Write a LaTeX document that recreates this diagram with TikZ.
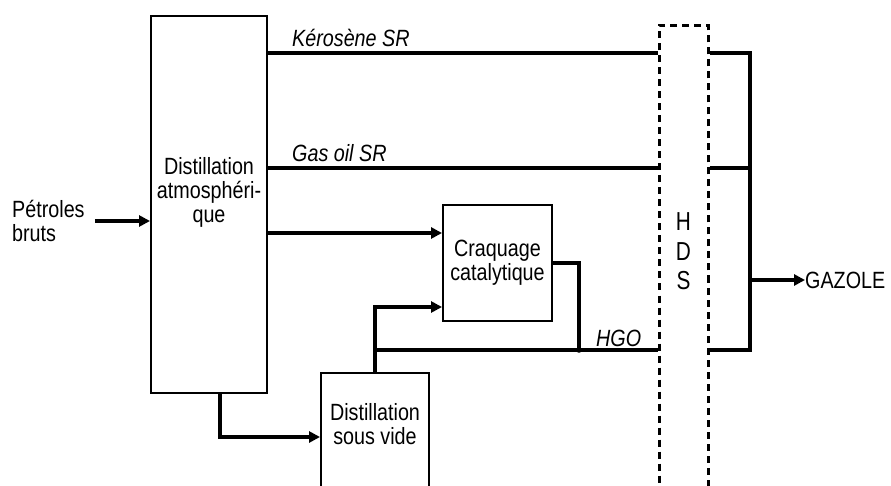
\documentclass[tikz,border=0pt]{standalone}
\usepackage{fontspec}
\setmainfont{Liberation Sans}[FakeStretch=0.84]
\newfontfamily\hdsfont{Liberation Sans}[FakeStretch=0.8]
\usetikzlibrary{arrows.meta,positioning}

\begin{document}
\begin{tikzpicture}[
  x=1pt, y=-1pt,
  font=\fontsize{23.5}{24}\selectfont,
  unit box/.style={
    draw,
    line width=2pt,
    align=center,
    inner sep=0pt
  },
  unit text/.style={
    align=center,
    inner sep=0pt
  },
  reactor/.style={
    draw,
    dash pattern=on 7pt off 5pt,
    line width=3pt,
    inner sep=0pt
  },
  flow/.style={
    line width=4pt
  },
  feed/.style={
    flow,
    -{Triangle[length=11pt,width=11pt]}
  },
  stream label/.style={
    font=\fontsize{23.5}{24}\selectfont\itshape,
    anchor=base west,
    inner sep=0pt
  }
]
\useasboundingbox (0,0) rectangle (891,486);
\clip (0,0) rectangle (891,486);

% Process units
\node[unit box, minimum width=116pt, minimum height=377pt] (atmo) at (209,204.5) {};
\node[unit text] (atmoText) at (209,192) {Distillation\\atmosphéri-\\que};

\node[unit box, minimum width=109pt, minimum height=116pt] (craq) at (497.5,263)
  {Craquage\\catalytique};

\node[unit box, minimum width=108pt, minimum height=160pt, anchor=north] (vacuum) at (375,372) {};
\node[unit text] (vacuumText) at (375,424) {Distillation\\sous vide};

\node[reactor, minimum width=49pt, minimum height=520pt, anchor=north] (hds) at (683.5,24) {};
\node[unit text, font=\hdsfont\fontsize{26}{29.5}\selectfont] (hdsText) at (683.5,251.5) {H\\D\\S};

% Feed and product
\node[unit text, align=left, anchor=west] (crude) at (12,221) {Pétroles\\bruts};
\node[unit text, anchor=west] (gazole) at (805,280) {GAZOLE};

% Stream levels
\coordinate (keroLevel) at (0,53);
\coordinate (gasoilLevel) at (0,168);
\coordinate (crackFeed) at (0,233);
\coordinate (vacFeed) at (0,307);
\coordinate (hgoLevel) at (0,350);
\coordinate (vacArrowLevel) at (0,437);
\coordinate (atmoDrop) at (220,0);
\coordinate (crackDrop) at (579,0);
\coordinate (collector) at (750,0);

% Straight-run cuts to HDS
\draw[feed] ([xshift=10pt]crude.east) -- (crude.east -| atmo.west);
\draw[flow] (atmo.east |- keroLevel) -- (hds.west |- keroLevel);
\draw[flow] (atmo.east |- gasoilLevel) -- (hds.west |- gasoilLevel);
\draw[feed] (atmo.east |- crackFeed) -- (craq.west |- crackFeed);
\draw[feed] (atmo.south -| atmoDrop) |- (vacuum.west |- vacArrowLevel);

% Vacuum distillate and cracking
\draw[feed] (vacuum.north) |- (craq.west |- vacFeed);
\draw[flow] (vacuum.north |- hgoLevel) -- (hds.west |- hgoLevel);
\draw[flow] (craq.east) -| (crackDrop |- hgoLevel);
\fill (crackDrop |- hgoLevel) circle (2.8pt);

% Collector after HDS
\draw[flow] (hds.east |- keroLevel) -- (collector |- keroLevel)
  -- (collector |- hgoLevel) -- (hds.east |- hgoLevel);
\draw[flow] (hds.east |- gasoilLevel) -- (collector |- gasoilLevel);
\draw[feed] (collector |- gazole.west) -- (gazole.west);

% Stream names
\node[stream label] (keroLabel) at ([xshift=24pt,yshift=6.5pt]atmo.east |- keroLevel) {Kérosène SR};
\node[stream label] (gasoilLabel) at ([xshift=24pt,yshift=6.5pt]atmo.east |- gasoilLevel) {Gas oil SR};
\node[stream label] (hgoLabel) at ([xshift=17pt,yshift=4pt]crackDrop |- hgoLevel) {HGO};

\end{tikzpicture}
\end{document}
